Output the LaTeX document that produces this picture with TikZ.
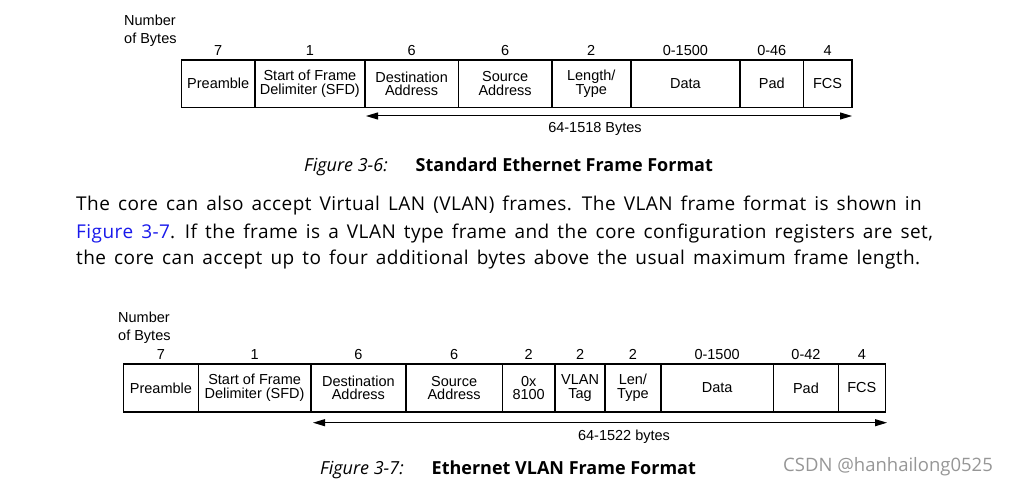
\documentclass[tikz,border=0pt]{standalone}
\usepackage{fontspec}
\setmainfont{Liberation Sans}
\newfontfamily\bodyfont[LetterSpace=2.4,WordSpace=1.5]{Open Sans}
\newfontfamily\capfont{Open Sans}
\newfontfamily\wmfont{Open Sans}
\usetikzlibrary{arrows.meta}
\definecolor{linkblue}{RGB}{25,25,235}
\definecolor{wmgray}{RGB}{150,150,150}
\tikzset{
  fb/.style={draw, line width=1.5pt, anchor=north west, inner sep=0pt, align=center,
    font=\fontsize{14.5}{13.5}\selectfont},
  num/.style={anchor=base, inner sep=0pt, font=\fontsize{14.5}{14}\selectfont},
  lbl/.style={anchor=base west, inner sep=0pt, font=\fontsize{14.5}{14}\selectfont},
  body/.style={anchor=base west, inner sep=0pt, font=\bodyfont\fontsize{19}{20}\selectfont},
  capt/.style={anchor=base west, inner sep=0pt, font=\capfont\fontsize{18}{20}\selectfont},
  spanarrow/.style={line width=1pt, {Triangle[length=12pt,width=7pt]}-{Triangle[length=12pt,width=7pt]}},
}
\begin{document}
\begin{tikzpicture}[x=1pt,y=-1pt]
\useasboundingbox (0,0) rectangle (1016,486);
% ---------- Figure 3-6 ----------
\node[lbl] (nb1) at (124,26) {Number};
\node[lbl] (ob1) at (124,44) {of Bytes};
\def\ty{59.3}\def\th{47.4}
\node[fb, minimum width=73.6, minimum height=\th] (a1) at (180.7,\ty) {Preamble};
\node[fb, minimum width=109.7, minimum height=\th] (a2) at (254.3,\ty) {Start of Frame\\Delimiter (SFD)};
\node[fb, minimum width=93.7, minimum height=\th] (a3) at (364,\ty) {Destination\\Address};
\node[fb, minimum width=93.3, minimum height=\th] (a4) at (457.7,\ty) {Source\\Address};
\node[fb, minimum width=79, minimum height=\th] (a5) at (551,\ty) {Length/\\Type};
\node[fb, minimum width=109.3, minimum height=\th] (a6) at (630,\ty) {Data};
\node[fb, minimum width=63.4, minimum height=\th] (a7) at (739.3,\ty) {Pad};
\node[fb, minimum width=48.3, minimum height=\th] (a8) at (802.7,\ty) {FCS};
\foreach \n/\t in {a1/7,a2/1,a3/6,a4/6,a5/2,a6/0-1500,a7/0-46,a8/4}
  \node[num] (n\n) at ([yshift=3.5pt]\n.north) {\t};
\coordinate (s1) at (366,116);
\coordinate (e1) at (852,116);
\draw[spanarrow] (s1) -- (e1);
\node[num] (l1) at (595,133) {64-1518 Bytes};
\node[capt] (c1) at (304,172) {\itshape Figure 3-6:\hspace{1.55em}\bfseries\upshape Standard Ethernet Frame Format};
% ---------- paragraph ----------
\node[body] (p1) at (76,211) {The core can also accept Virtual LAN (VLAN) frames. The VLAN frame format is shown in};
\node[body] (p2) at (76,238) {\textcolor{linkblue}{Figure 3-7}. If the frame is a VLAN type frame and the core configuration registers are set,};
\node[body] (p3) at (76,264) {the core can accept up to four additional bytes above the usual maximum frame length.};
% ---------- Figure 3-7 ----------
\node[lbl] (nb2) at (118,322) {Number};
\node[lbl] (ob2) at (118,340) {of Bytes};
\def\by{363.3}\def\bh{47.7}
\node[fb, minimum width=75, minimum height=\bh] (b1) at (122.7,\by) {Preamble};
\node[fb, minimum width=112.3, minimum height=\bh] (b2) at (197.7,\by) {Start of Frame\\Delimiter (SFD)};
\node[fb, minimum width=95.3, minimum height=\bh] (b3) at (310,\by) {Destination\\Address};
\node[fb, minimum width=96.2, minimum height=\bh] (b4) at (405.3,\by) {Source\\Address};
\node[fb, minimum width=52.8, minimum height=\bh] (b5) at (501.5,\by) {0x\\8100};
\node[fb, minimum width=50, minimum height=\bh] (b6) at (554.3,\by) {VLAN\\Tag};
\node[fb, minimum width=55.7, minimum height=\bh] (b7) at (604.3,\by) {Len/\\Type};
\node[fb, minimum width=112.7, minimum height=\bh] (b8) at (660,\by) {Data};
\node[fb, minimum width=65, minimum height=\bh] (b9) at (772.7,\by) {Pad};
\node[fb, minimum width=46.8, minimum height=\bh] (b10) at (837.7,\by) {FCS};
\foreach \n/\t in {b1/7,b2/1,b3/6,b4/6,b5/2,b6/2,b7/2,b8/0-1500,b9/0-42,b10/4}
  \node[num] (n\n) at ([yshift=3.5pt]\n.north) {\t};
\coordinate (s2) at (313,422.7);
\coordinate (e2) at (887,422.7);
\draw[spanarrow] (s2) -- (e2);
\node[num] (l2) at (624,440) {64-1522 bytes};
\node[capt] (c2) at (320,474) {\itshape Figure 3-7:\hspace{1.55em}\bfseries\upshape Ethernet VLAN Frame Format};
\node[anchor=base west, inner sep=0pt, text=wmgray, font=\wmfont\fontsize{18.5}{20}\selectfont] (wm) at (783,471) {CSDN @hanhailong0525};
\end{tikzpicture}
\end{document}
